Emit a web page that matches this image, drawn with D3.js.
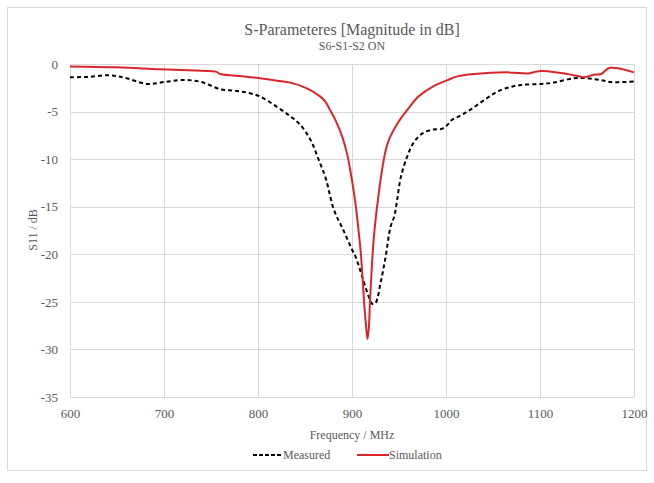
<!doctype html>
<html>
<head>
<meta charset="utf-8">
<title>S-Parameters</title>
<style>
  body { margin:0; background:#fff; }
  svg { font-family:"Liberation Serif", "DejaVu Serif", serif; }
  .grid line { stroke:#d9d9d9; stroke-width:1px; }
  .axis text { fill:#595959; font-size:13px; font-family:"Liberation Serif", serif; }
  .axis path, .axis line { display:none; }
</style>
<script src="https://d3js.org/d3.v7.min.js"></script>
</head>
<body>
<svg id="chart" width="654" height="483"></svg>
<script>
// measured S11 (dashed black)
var measFreq = [600,620,643,660,682,700,721,740,760,775,788,802,820,834.5,845,856,864.7,872,880.7,891,900,904,911,918,921.5,925,930.4,935.7,941,945,948,951.7,958.8,966,975,985.5,996,1001.5,1006,1015.6,1026,1040.5,1054.7,1069,1080,1101,1115,1136,1150,1165,1175,1187,1200]
var measDb = [-1.4,-1.35,-1.19,-1.5,-2.1,-1.9,-1.68,-1.9,-2.66,-2.8,-3.0,-3.4,-4.5,-5.5,-6.4,-8.0,-10.1,-12.0,-15.3,-17.5,-19.5,-20.3,-22.4,-24.5,-25.2,-25.1,-23.0,-20.3,-17.1,-16.0,-14.3,-12.0,-9.7,-8.2,-7.3,-6.9,-6.8,-6.4,-5.9,-5.4,-4.8,-3.8,-2.9,-2.4,-2.2,-2.1,-1.95,-1.5,-1.5,-1.7,-1.9,-1.9,-1.85]

// simulated S11 (red)
var simFreq = [600,650,696,740,755,760,788,820,834.5,852,866,872,877,882.4,889.5,894.9,898.4,902,904.5,907.3,909.5,913,915,916.5,918,919,921,923,925.5,928.6,932.2,936,940,948,959,971,985.5,1001.5,1012,1030,1065,1086,1090,1099,1119,1140,1147,1157,1165,1172,1176,1183,1200]
var simDb = [-0.25,-0.35,-0.56,-0.72,-0.8,-1.05,-1.33,-1.75,-1.96,-2.56,-3.4,-4.0,-4.9,-5.9,-7.6,-9.5,-11.3,-13.5,-15.3,-17.8,-20,-25.2,-27.6,-28.9,-27.6,-25.2,-21.5,-18.5,-16.0,-13.5,-11.0,-9.0,-7.8,-6.3,-4.8,-3.4,-2.4,-1.7,-1.3,-1.05,-0.88,-1.0,-0.95,-0.75,-0.9,-1.26,-1.4,-1.12,-1.05,-0.5,-0.4,-0.45,-0.88]

var xTicks = [600,700,800,900,1000,1100,1200]
var yTicks = [0,-5,-10,-15,-20,-25,-30,-35]

var svg = d3.select("#chart")
var pLeft = 70, pRight = 634, pTop = 64, pBottom = 397

var x = d3.scaleLinear().domain([600,1200]).range([pLeft,pRight])
var y = d3.scaleLinear().domain([-35,0]).range([pBottom,pTop])

// outer frame
svg.append("rect").attr("x",7.5).attr("y",7.5).attr("width",639).attr("height",463)
   .attr("fill","none").attr("stroke","#d9d9d9")

// grid
var grid = svg.append("g").attr("class","grid")
grid.selectAll(".v").data(xTicks).enter().append("line")
   .attr("x1",function(d){return Math.round(x(d))+0.5}).attr("x2",function(d){return Math.round(x(d))+0.5})
   .attr("y1",pTop).attr("y2",pBottom)
grid.selectAll(".h").data(yTicks).enter().append("line")
   .attr("y1",function(d){return Math.round(y(d))+0.5}).attr("y2",function(d){return Math.round(y(d))+0.5})
   .attr("x1",pLeft).attr("x2",pRight)

// axes (labels only)
var plain = function(d){ return String(d) }
svg.append("g").attr("class","axis")
   .attr("transform","translate(0,"+(pBottom+9)+")")
   .call(d3.axisBottom(x).tickValues(xTicks).tickSize(0).tickPadding(3).tickFormat(plain))
svg.append("g").attr("class","axis")
   .attr("transform","translate("+(pLeft-10)+",0)")
   .call(d3.axisLeft(y).tickValues(yTicks).tickSize(0).tickPadding(2).tickFormat(plain))
svg.selectAll(".axis").attr("font-family",null).attr("font-size",null)

// lines
var meas = measFreq.map(function(f,i){return [f,measDb[i]]})
var sim = simFreq.map(function(f,i){return [f,simDb[i]]})
var line = d3.line().x(function(d){return x(d[0])}).y(function(d){return y(d[1])}).curve(d3.curveCatmullRom.alpha(0.5))

svg.append("path").attr("d",line(meas)).attr("fill","none")
   .attr("stroke","#000").attr("stroke-width",2).attr("stroke-dasharray","4,3")
svg.append("path").attr("d",line(sim)).attr("fill","none")
   .attr("stroke","#d9262a").attr("stroke-width",2)

// titles
svg.append("text").attr("x",352).attr("y",35).attr("text-anchor","middle")
   .attr("fill","#595959").style("font-size","16px").text("S-Parameteres [Magnitude in dB]")
svg.append("text").attr("x",352).attr("y",50).attr("text-anchor","middle")
   .attr("fill","#595959").style("font-size","12px").text("S6-S1-S2 ON")
svg.append("text").attr("x",352).attr("y",439).attr("text-anchor","middle")
   .attr("fill","#595959").style("font-size","12px").text("Frequency  / MHz")
svg.append("text").attr("transform","translate(37,230) rotate(-90)").attr("text-anchor","middle")
   .attr("fill","#595959").style("font-size","12px").text("S11 / dB")

// legend
var lg = svg.append("g").attr("transform","translate(0,455)")
lg.append("line").attr("x1",253).attr("x2",282).attr("y1",0).attr("y2",0)
  .attr("stroke","#000").attr("stroke-width",2).attr("stroke-dasharray","4,2")
lg.append("text").attr("x",283).attr("y",4).attr("fill","#595959").style("font-size","12px").text("Measured")
lg.append("line").attr("x1",357).attr("x2",389).attr("y1",0).attr("y2",0)
  .attr("stroke","#d9262a").attr("stroke-width",2)
lg.append("text").attr("x",389).attr("y",4).attr("fill","#595959").style("font-size","12px").text("Simulation")
</script>
</body>
</html>
